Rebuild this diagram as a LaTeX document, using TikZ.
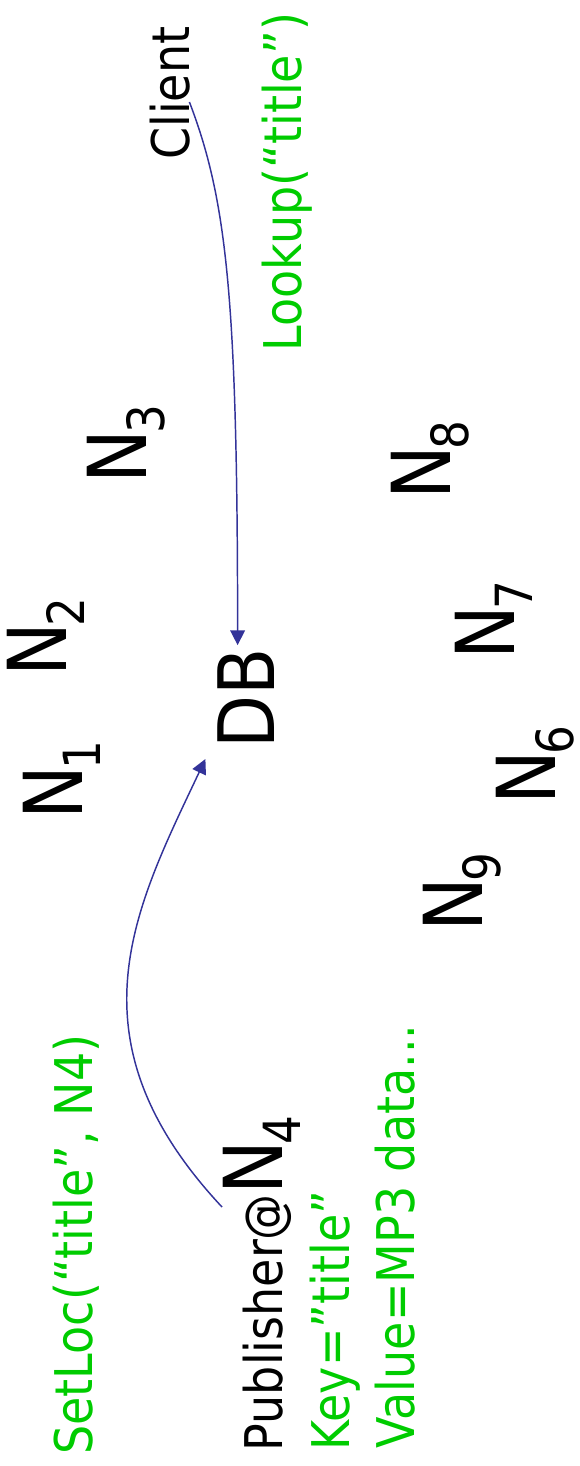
\documentclass[tikz,border=0pt]{standalone}
\usepackage{fontspec}
\setmainfont{DejaVu Sans}
\usetikzlibrary{arrows.meta,calc}
\definecolor{msggreen}{RGB}{0,204,0}
\definecolor{linkblue}{RGB}{51,51,153}
\newcommand{\nsub}[1]{N\kern-3pt\raisebox{-12pt}{\fontsize{34}{34}\selectfont #1}}
\tikzset{
  lbl/.style={rotate=90,yscale=1.13,anchor=base west,inner sep=0pt,font=\fontsize{34.5}{40}\selectfont},
  peer/.style={lbl,font=\fontsize{54}{60}\selectfont},
  msg/.style={lbl,text=msggreen},
  link/.style={linkblue,line width=1.1pt,-{Triangle[length=11pt,width=11pt]}}
}
\begin{document}
\begin{tikzpicture}[x=0.75pt,y=-0.75pt]
  \useasboundingbox (0,0) rectangle (580,1466);
  % peers
  \node[peer] (n1) at (82,820) {\nsub{1}};
  \node[peer] (n2) at (66.6,677) {\nsub{2}};
  \node[peer] (n3) at (146,484) {\nsub{3}};
  \node[peer] (n6) at (555,805) {\nsub{6}};
  \node[peer] (n7) at (514,660) {\nsub{7}};
  \node[peer] (n8) at (450.5,500) {\nsub{8}};
  \node[peer] (n9) at (482.7,932) {\nsub{9}};
  \node[lbl,font=\fontsize{51.7}{56}\selectfont] (db) at (274.5,749) {DB};
  % client side
  \node[lbl] (client) at (189.4,160) {Client};
  \node[msg] (lookup) at (301.5,351.5) {Lookup(“title”)};
  % publisher side
  \node[lbl] (pub) at (282,1451.5) {Publisher@{\fontsize{54}{60}\selectfont\nsub{4}}};
  \node[msg] (key) at (349.6,1450.5) {Key=”title”};
  \node[msg] (value) at (414.3,1448.5) {Value=MP3 data...};
  \node[msg] (setloc) at (92.5,1455) {SetLoc(“title”, N4)};
  \coordinate (clientout) at (189.4,102);
  \coordinate (pubout) at (222,1207);
  \coordinate (dbtop) at ($(db.east)+(-8.5,-3)$);
  \coordinate (dbin) at ($(db.north west)+(-12,10)$);
  % messages
  \draw[link] (clientout) .. controls (227,200) and (237.5,300) .. (dbtop);
  \draw[link] (pubout) .. controls (65,1039) and (135,908) .. (dbin);
\end{tikzpicture}
\end{document}
